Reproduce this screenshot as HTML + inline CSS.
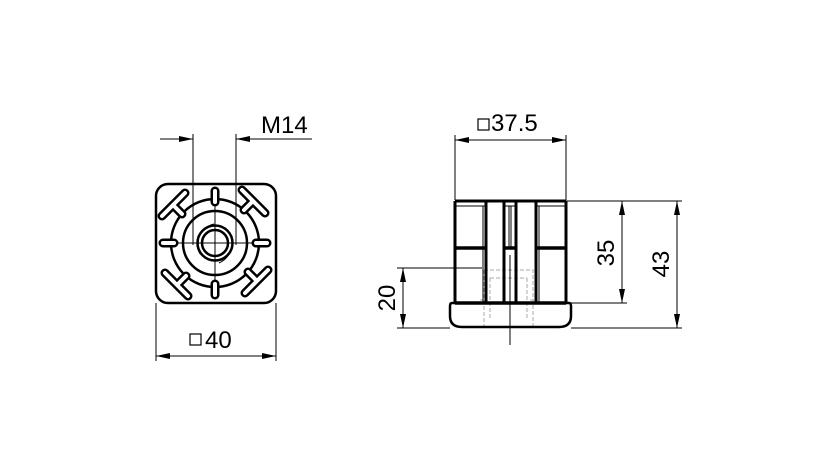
<!DOCTYPE html><html><head><style>body{margin:0;background:#fff}svg{display:block}text{font-family:"Liberation Sans",sans-serif;font-size:24px;fill:#000}</style></head><body>
<svg width="827" height="472" viewBox="0 0 827 472">
<defs>
<marker id="a" viewBox="0 0 14 6" refX="14" refY="3" markerWidth="14" markerHeight="6" markerUnits="userSpaceOnUse" orient="auto"><path d="M0,0 L14,3 L0,6z"/></marker>
<g id="slot"><path d="M162,216 L185,193 M173,205 L182,214" stroke="#000" stroke-width="9" stroke-linecap="round" fill="none"/><path d="M162,216 L185,193 M173,205 L182,214" stroke="#fff" stroke-width="4" stroke-linecap="round" fill="none"/></g>
<g id="tick"><path d="M215,191 L215,202" stroke="#000" stroke-width="9" stroke-linecap="round"/><path d="M215,191 L215,202" stroke="#fff" stroke-width="4" stroke-linecap="round"/></g>
</defs>
<g fill="none" stroke="#000">
<rect x="156" y="184" width="120" height="119" rx="12" stroke-width="2.5"/>
<circle cx="215" cy="243" r="44" stroke-width="2.5"/>
<circle cx="215" cy="243" r="32" stroke-width="2.5"/>
<circle cx="215" cy="243" r="17.5" stroke-width="2.5"/>
<circle cx="215" cy="243" r="13" stroke-width="2.5"/>
<path d="M200,254 A21,21 0 0 1 214,224" stroke-width="1"/>
<path d="M219,263 A21,21 0 0 0 230,252" stroke-width="1"/>
<path d="M175,243 H255 M215,205 V283" stroke-width="1"/>
</g>
<use href="#slot"/>
<use href="#slot" transform="rotate(90 215 243)"/>
<use href="#slot" transform="rotate(180 215 243)"/>
<use href="#slot" transform="rotate(270 215 243)"/>
<use href="#tick"/><use href="#tick" transform="rotate(90 215 243)"/><use href="#tick" transform="rotate(180 215 243)"/><use href="#tick" transform="rotate(270 215 243)"/>
<g stroke="#000" stroke-width="1" fill="none">
<path d="M193,134 V245 M236,134 V245"/>
<path d="M160,139 H193" marker-end="url(#a)"/><path d="M312,139 H236" marker-end="url(#a)"/>
<path d="M156,303 V361 M276,303 V361"/>
<path d="M216,356 H156" marker-end="url(#a)"/><path d="M216,356 H276" marker-end="url(#a)"/>
<path d="M455,135 V200 M566,135 V200"/>
<path d="M510,140 H455" marker-end="url(#a)"/><path d="M510,140 H566" marker-end="url(#a)"/>
<path d="M566,201 H682 M566,303 H627 M571,328 H682 M397,268 H482 M397,328 H450"/>
<path d="M622,250 V201" marker-end="url(#a)"/><path d="M622,250 V303" marker-end="url(#a)"/>
<path d="M677,265 V201" marker-end="url(#a)"/><path d="M677,265 V328" marker-end="url(#a)"/>
<path d="M403,298 V268" marker-end="url(#a)"/><path d="M403,298 V328" marker-end="url(#a)"/>
</g>
<rect x="190" y="334" width="11" height="11" fill="none" stroke="#000" stroke-width="1.2"/>
<text x="205" y="348">40</text>
<text x="261" y="133">M14</text>
<rect x="478" y="119" width="11" height="11" fill="none" stroke="#000" stroke-width="1.2"/>
<text x="491" y="131">37.5</text>
<text transform="translate(614,253) rotate(-90)" text-anchor="middle">35</text>
<text transform="translate(669,264) rotate(-90)" text-anchor="middle">43</text>
<text transform="translate(395,298) rotate(-90)" text-anchor="middle">20</text>
<g fill="none" stroke="#000">
<g stroke="#aaa" stroke-width="1" stroke-dasharray="4,2">
<path d="M484,270 H533 V326 M484,270 V326 M490,278 H527 M490,278 V320 M527,278 V320 M480,300 H486 M530,300 H536"/>
</g>
<path d="M455,201 H566" stroke-width="3"/>
<path d="M455,201 V303 M486,201 V303 M504,201 V303 M516,201 V303 M536,201 V303 M566,201 V303" stroke-width="3"/>
<path d="M455,248 H486 M504,248 H516 M536,248 H566 M455,303 H566" stroke-width="3.5"/>
<path d="M455,206 H486 M536,206 H566 M504,206 H516 M483,206 V303 M539,206 V303 M509,206 V248 M511,206 V248" stroke-width="1"/>
<path d="M452,303 H569 Q571,303 571,306 V316 Q571,327 559,327 H462 Q450,327 450,316 V306 Q450,303 452,303Z" stroke-width="2.5"/>
<path d="M510,255 V345" stroke-width="1"/>
</g>
</svg></body></html>
